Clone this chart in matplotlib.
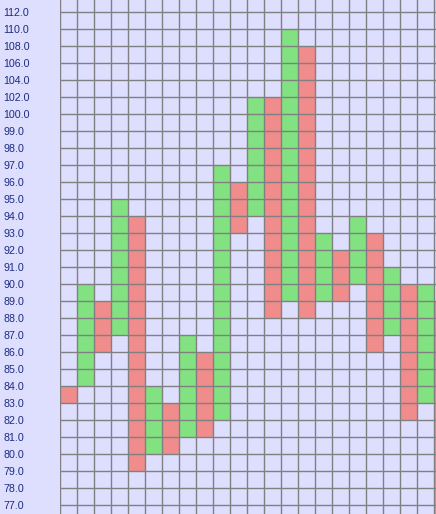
import numpy as np
import matplotlib
matplotlib.use('Agg')
import matplotlib.pyplot as plt

# price levels on the axis (box size 2 above 100, 1 below)
levels = [112, 110, 108, 106, 104, 102, 100, 99, 98, 97, 96, 95, 94, 93, 92,
          91, 90, 89, 88, 87, 86, 85, 84, 83, 82, 81, 80, 79, 78, 77]

# column ranges (top and bottom edge of each column), first column falls
highs = [84, 90, 89, 95, 94, 84, 83, 87, 86, 97, 96, 102, 102, 110, 108, 93,
         92, 94, 93, 91, 90, 90, 89]
lows = [83, 84, 86, 87, 79, 80, 80, 81, 81, 82, 93, 94, 88, 89, 88, 89,
        89, 90, 86, 87, 82, 83, 76]

bg = '#dedeff'
up_col = '#82e282'
down_col = '#f08c8c'


def to_row(v):
    v = np.asarray(v, dtype=float)
    return np.where(v >= 100, 23 + (v - 100) / 2, v - 77)


fig = plt.figure(figsize=(4.36, 5.14), dpi=100, facecolor=bg)
ax = fig.add_axes([60 / 436, 0, 376 / 436, 1])
ax.set_facecolor(bg)

top = to_row(highs)
bot = to_row(lows)
x = np.arange(len(highs))
colors = [down_col if i % 2 == 0 else up_col for i in x]
ax.bar(x, top - bot, bottom=bot, width=1, align='edge', color=colors,
       edgecolor='none', zorder=1)

ax.set_xlim(0, 376 / 17)
ax.set_ylim(-9 / 17, 29 + 12 / 17)

ax.set_xticks(np.arange(0, 23))
ax.set_xticklabels([])
ax.set_yticks(to_row(levels))
ax.set_yticklabels(['%.1f' % v for v in levels])
ax.tick_params(length=0, pad=41.0)
ax.tick_params(axis='y', labelsize=7.7, labelcolor='#1c2c80')
for lab in ax.get_yticklabels():
    lab.set_ha('left')
    lab.set_family('Liberation Sans')

ax.grid(True, color='#808080', linewidth=1.0)
ax.set_axisbelow(False)
for s in ax.spines.values():
    s.set_visible(False)

fig.savefig('out.png', dpi=100, facecolor=bg)
